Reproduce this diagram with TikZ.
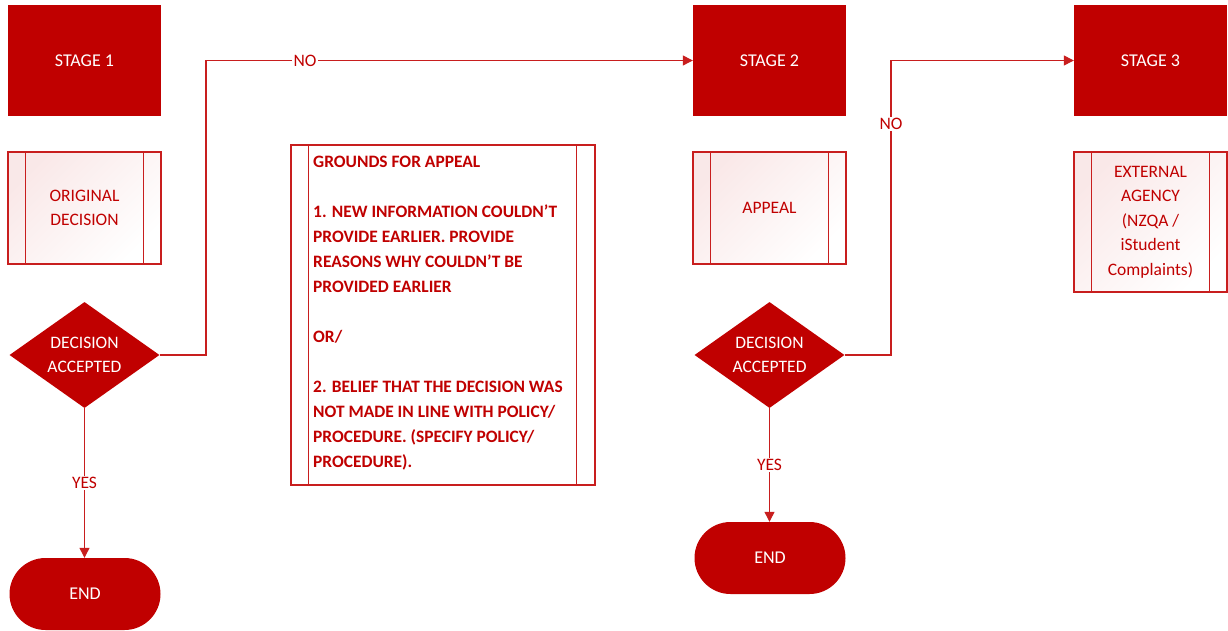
\documentclass[tikz,border=0pt]{standalone}
\usepackage{fontspec}
\setmainfont{Carlito}
\usetikzlibrary{shapes.geometric,arrows.meta,calc}
\definecolor{dred}{HTML}{C00000}
\definecolor{lred}{HTML}{C81E1E}
\begin{document}
\begin{tikzpicture}[x=1pt,y=-1pt,
  stagebox/.style={draw=none,fill=dred,minimum width=153pt,minimum height=111pt,inner sep=0pt,text=white,font=\fontsize{18}{24}\selectfont},
  subbox/.style={draw=lred,line width=1.2pt,top color=dred!9!white,bottom color=white,shading angle=45,minimum width=153pt,inner sep=0pt,text=dred,align=center,font=\fontsize{17.5}{24.5}\selectfont},
  dia/.style={diamond,fill=dred,draw=none,minimum width=150pt,minimum height=106pt,shape aspect=1.42,inner sep=0pt,text=white,align=center,font=\fontsize{17.5}{24}\selectfont},
  endbox/.style={fill=dred,draw=none,rounded corners=36pt,minimum width=151pt,minimum height=72pt,inner sep=0pt,text=white,font=\fontsize{18}{24}\selectfont},
  conn/.style={draw=lred,line width=1.2pt},
  arr/.style={conn,-{Triangle[length=10pt,width=10pt]}},
  lbl/.style={fill=white,text=dred,inner sep=1.5pt,font=\fontsize{17.5}{24}\selectfont}]
\useasboundingbox (0,0) rectangle (1228,631);
% stages
\node[stagebox] (s1) at (84.5,60.5) {STAGE 1};
\node[stagebox] (s2) at (769.5,60.5) {STAGE 2};
\node[stagebox] (s3) at (1150.5,60.5) {STAGE 3};
% sub-process boxes
\node[subbox,minimum height=112pt] (orig) at (84.5,208) {ORIGINAL\\DECISION};
\draw[conn] ($(orig.north west)+(18,0)$) -- ($(orig.south west)+(18,0)$);
\draw[conn] ($(orig.north east)+(-18,0)$) -- ($(orig.south east)+(-18,0)$);
\node[subbox,minimum height=112pt] (app) at (769.5,208) {APPEAL};
\draw[conn] ($(app.north west)+(18,0)$) -- ($(app.south west)+(18,0)$);
\draw[conn] ($(app.north east)+(-18,0)$) -- ($(app.south east)+(-18,0)$);
\node[subbox,minimum height=140pt] (ext) at (1150.5,222) {EXTERNAL\\AGENCY\\(NZQA /\\iStudent\\Complaints)};
\draw[conn] ($(ext.north west)+(18,0)$) -- ($(ext.south west)+(18,0)$);
\draw[conn] ($(ext.north east)+(-18,0)$) -- ($(ext.south east)+(-18,0)$);
% grounds box
\node[draw=lred,line width=1.2pt,fill=white,minimum width=304pt,minimum height=340pt,inner sep=0pt] (gr) at (443,315) {};
\draw[conn] ($(gr.north west)+(18,0)$) -- ($(gr.south west)+(18,0)$);
\draw[conn] ($(gr.north east)+(-19,0)$) -- ($(gr.south east)+(-19,0)$);
\node[anchor=north west,inner sep=0pt,align=left,text=dred,font=\bfseries\fontsize{17.4}{25}\selectfont] (grt) at (313,156)
{GROUNDS FOR APPEAL\\[25pt]
1. NEW INFORMATION COULDN’T\\
PROVIDE EARLIER. PROVIDE\\
REASONS WHY COULDN’T BE\\
PROVIDED EARLIER\\[25pt]
OR/\\[25pt]
2. BELIEF THAT THE DECISION WAS\\
NOT MADE IN LINE WITH POLICY/\\
PROCEDURE. (SPECIFY POLICY/\\
PROCEDURE).};
% decisions
\node[dia] (d1) at (84.5,355) {DECISION\\ACCEPTED};
\node[dia] (d2) at (769.5,355) {DECISION\\ACCEPTED};
% ends
\node[endbox] (e1) at (85,594) {END};
\node[endbox] (e2) at (770,558) {END};
% junctions
\coordinate (j1) at (206,0);
\coordinate (j2) at (891,0);
% connectors
\draw[arr] (d1.east) -- (d1.east -| j1) |- (s2.west);
\draw[arr] (d2.east) -- (d2.east -| j2) |- (s3.west);
\draw[arr] (d1.south) -- (e1.north -| d1.south);
\draw[arr] (d2.south) -- (e2.north -| d2.south);
% labels
\node[lbl] (no1) at (305,61) {NO};
\node[lbl] (no2) at (891,124) {NO};
\node[lbl] (yes1) at (84.5,483) {YES};
\node[lbl] (yes2) at (769.5,465) {YES};
\end{tikzpicture}
\end{document}
